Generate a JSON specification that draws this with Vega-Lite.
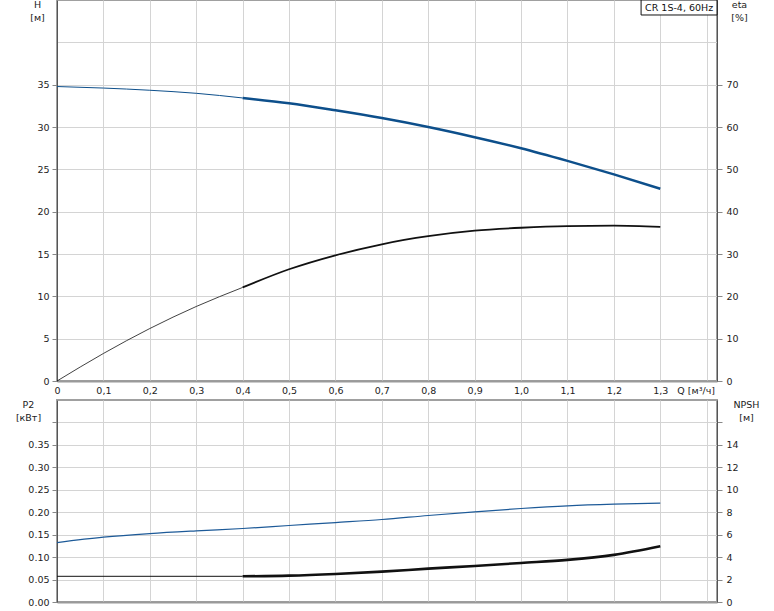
{
  "$schema": "https://vega.github.io/schema/vega-lite/v6.json",
  "autosize": {"type": "pad"},
  "padding": {"left": 14, "top": -2, "right": 0, "bottom": 0},
  "background": "white",
  "config": {
    "font": "DejaVu Sans",
    "view": {"stroke": "#a0a0a0", "strokeWidth": 2},
    "axis": {
      "labelFont": "DejaVu Sans", "labelFontSize": 9.5, "labelColor": "#222",
      "titleFont": "DejaVu Sans", "titleFontSize": 9.5, "titleFontWeight": "normal", "titleColor": "#222",
      "gridColor": "#d4d4d4", "gridWidth": 1, "tickColor": "#888", "tickSize": 5,
      "domainColor": "#555", "domainWidth": 1, "labelPadding": 3
    }
  },
  "datasets": {
    "H": [
      {"q": 0, "v": 34.78, "range": "outside"},
      {"q": 0.1, "v": 34.6, "range": "outside"},
      {"q": 0.2, "v": 34.34, "range": "outside"},
      {"q": 0.3, "v": 33.98, "range": "outside"},
      {"q": 0.4, "v": 33.43, "range": "outside"},
      {"q": 0.4, "v": 33.43, "range": "main"},
      {"q": 0.5, "v": 32.8, "range": "main"},
      {"q": 0.6, "v": 31.97, "range": "main"},
      {"q": 0.7, "v": 31.06, "range": "main"},
      {"q": 0.8, "v": 30.0, "range": "main"},
      {"q": 0.9, "v": 28.8, "range": "main"},
      {"q": 1.0, "v": 27.5, "range": "main"},
      {"q": 1.1, "v": 26.0, "range": "main"},
      {"q": 1.2, "v": 24.4, "range": "main"},
      {"q": 1.3, "v": 22.7, "range": "main"}
    ],
    "eta": [
      {"q": 0, "v": 0, "range": "outside"},
      {"q": 0.1, "v": 6.5, "range": "outside"},
      {"q": 0.2, "v": 12.4, "range": "outside"},
      {"q": 0.3, "v": 17.6, "range": "outside"},
      {"q": 0.4, "v": 22.1, "range": "outside"},
      {"q": 0.4, "v": 22.1, "range": "main"},
      {"q": 0.5, "v": 26.4, "range": "main"},
      {"q": 0.6, "v": 29.7, "range": "main"},
      {"q": 0.7, "v": 32.3, "range": "main"},
      {"q": 0.8, "v": 34.2, "range": "main"},
      {"q": 0.9, "v": 35.5, "range": "main"},
      {"q": 1.0, "v": 36.2, "range": "main"},
      {"q": 1.1, "v": 36.6, "range": "main"},
      {"q": 1.2, "v": 36.7, "range": "main"},
      {"q": 1.3, "v": 36.4, "range": "main"}
    ],
    "P2": [
      {"q": 0, "v": 0.1324},
      {"q": 0.1, "v": 0.1444},
      {"q": 0.2, "v": 0.1525},
      {"q": 0.3, "v": 0.1585},
      {"q": 0.4, "v": 0.1637},
      {"q": 0.5, "v": 0.1704},
      {"q": 0.6, "v": 0.177},
      {"q": 0.7, "v": 0.1838},
      {"q": 0.8, "v": 0.1927},
      {"q": 0.9, "v": 0.2009},
      {"q": 1.0, "v": 0.2083},
      {"q": 1.1, "v": 0.2143},
      {"q": 1.2, "v": 0.218},
      {"q": 1.3, "v": 0.2203}
    ],
    "NPSH": [
      {"q": 0, "v": 2.29, "range": "outside"},
      {"q": 0.4, "v": 2.29, "range": "outside"},
      {"q": 0.4, "v": 2.29, "range": "main"},
      {"q": 0.5, "v": 2.35, "range": "main"},
      {"q": 0.6, "v": 2.5, "range": "main"},
      {"q": 0.7, "v": 2.71, "range": "main"},
      {"q": 0.8, "v": 2.97, "range": "main"},
      {"q": 0.9, "v": 3.21, "range": "main"},
      {"q": 1.0, "v": 3.48, "range": "main"},
      {"q": 1.1, "v": 3.75, "range": "main"},
      {"q": 1.2, "v": 4.2, "range": "main"},
      {"q": 1.3, "v": 4.97, "range": "main"}
    ],
    "label": [
      {"q": 1.2586, "q2": 1.4222, "y": 45, "y2": 43.23, "yc": 44.1, "text": "CR 1S-4, 60Hz"}
    ]
  },
  "bounds": "flush",
  "spacing": 19,
  "vconcat": [
    {
      "width": 660,
      "height": 381,
      "encoding": {
        "x": {
          "field": "q", "type": "quantitative",
          "scale": {"domain": [0, 1.4222], "nice": false, "zero": false},
          "axis": {
            "values": [0, 0.1, 0.2, 0.3, 0.4, 0.5, 0.6, 0.7, 0.8, 0.9, 1.0, 1.1, 1.2, 1.3, 1.4],
            "grid": true, "ticks": false, "title": null,
            "domainColor": "#9a9a9a", "domainWidth": 2,
            "labelPadding": 4, "labelOverlap": false, "labelFlush": false,
            "labelExpr": "datum.value > 1.35 ? 'Q [м³/ч]' : (datum.value == 0 ? '0' : replace(format(datum.value, '.1f'), '.', ','))",
            "labelOffset": {"condition": {"test": "datum.value > 1.35", "value": -11}, "value": 0}
          }
        }
      },
      "layer": [
        {
          "data": {"name": "H"},
          "mark": {"type": "line", "color": "#0d4f8b", "interpolate": "monotone"},
          "encoding": {
            "y": {
              "field": "v", "type": "quantitative",
              "scale": {"domain": [0, 45], "nice": false},
              "axis": {
                "orient": "left",
                "values": [0, 5, 10, 15, 20, 25, 30, 35, 40],
                "grid": true, "labelFlush": false,
                "labelExpr": "datum.value > 35 ? '' : datum.label",
                "tickOpacity": {"condition": {"test": "datum.value > 35", "value": 0}, "value": 1},
                "title": ["H", "[м]"], "titleAngle": 0, "titleAlign": "center", "titleBaseline": "top",
                "titleX": -20, "titleY": -1, "titleLineHeight": 13
              }
            },
            "strokeWidth": {
              "field": "range", "type": "nominal",
              "scale": {"domain": ["outside", "main"], "range": [1, 2.5]},
              "legend": null
            }
          }
        },
        {
          "data": {"name": "eta"},
          "mark": {"type": "line", "color": "#111", "interpolate": "monotone"},
          "encoding": {
            "y": {
              "field": "v", "type": "quantitative",
              "scale": {"domain": [0, 90], "nice": false},
              "axis": {
                "orient": "right",
                "values": [0, 10, 20, 30, 40, 50, 60, 70, 80],
                "grid": false, "labelFlush": false,
                "labelPadding": 4,
                "labelExpr": "datum.value > 70 ? '' : datum.label",
                "tickOpacity": {"condition": {"test": "datum.value > 70", "value": 0}, "value": 1},
                "title": ["eta", "[%]"], "titleAngle": 0, "titleAlign": "center", "titleBaseline": "top",
                "titleX": 22, "titleY": -1, "titleLineHeight": 13
              }
            },
            "strokeWidth": {
              "field": "range", "type": "nominal",
              "scale": {"domain": ["outside", "main"], "range": [0.8, 1.8]},
              "legend": null
            }
          }
        },
        {
          "data": {"name": "label"},
          "mark": {"type": "rect", "fill": "white", "stroke": "#111", "strokeWidth": 1},
          "encoding": {
            "x2": {"field": "q2"},
            "y": {"field": "y", "type": "quantitative", "scale": {"domain": [0, 45], "nice": false}, "axis": null},
            "y2": {"field": "y2"}
          }
        },
        {
          "data": {"name": "label"},
          "mark": {"type": "text", "fontSize": 9.5, "font": "DejaVu Sans", "color": "#111", "align": "left", "baseline": "middle", "dx": 4},
          "encoding": {
            "y": {"field": "yc", "type": "quantitative", "scale": {"domain": [0, 45], "nice": false}, "axis": null},
            "text": {"field": "text"}
          }
        }
      ],
      "resolve": {"scale": {"y": "independent", "strokeWidth": "independent"}}
    },
    {
      "width": 660,
      "height": 202,
      "encoding": {
        "x": {
          "field": "q", "type": "quantitative",
          "scale": {"domain": [0, 1.4222], "nice": false, "zero": false},
          "axis": {
            "values": [0, 0.1, 0.2, 0.3, 0.4, 0.5, 0.6, 0.7, 0.8, 0.9, 1.0, 1.1, 1.2, 1.3, 1.4],
            "grid": true, "ticks": false, "labels": false, "title": null,
            "domainColor": "#9a9a9a", "domainWidth": 2
          }
        }
      },
      "layer": [
        {
          "data": {"name": "P2"},
          "mark": {"type": "line", "color": "#1d5a98", "strokeWidth": 1.2, "interpolate": "monotone"},
          "encoding": {
            "y": {
              "field": "v", "type": "quantitative",
              "scale": {"domain": [0, 0.45], "nice": false},
              "axis": {
                "orient": "left",
                "values": [0, 0.05, 0.1, 0.15, 0.2, 0.25, 0.3, 0.35, 0.4],
                "grid": true, "labelFlush": false,
                "format": ".2f",
                "labelExpr": "datum.value > 0.36 ? '' : datum.label",
                "title": ["P2", "[кВт]"], "titleAngle": 0, "titleAlign": "center", "titleBaseline": "top",
                "titleX": -29, "titleY": -1, "titleLineHeight": 13
              }
            }
          }
        },
        {
          "data": {"name": "NPSH"},
          "mark": {"type": "line", "color": "#111", "interpolate": "monotone"},
          "encoding": {
            "y": {
              "field": "v", "type": "quantitative",
              "scale": {"domain": [0, 18], "nice": false},
              "axis": {
                "orient": "right",
                "values": [0, 2, 4, 6, 8, 10, 12, 14, 16],
                "grid": false, "labelFlush": false,
                "labelPadding": 4,
                "labelExpr": "datum.value > 14 ? '' : datum.label",
                "title": ["NPSH", "[м]"], "titleAngle": 0, "titleAlign": "center", "titleBaseline": "top",
                "titleX": 29, "titleY": -1, "titleLineHeight": 13
              }
            },
            "strokeWidth": {
              "field": "range", "type": "nominal",
              "scale": {"domain": ["outside", "main"], "range": [1, 2.6]},
              "legend": null
            }
          }
        }
      ],
      "resolve": {"scale": {"y": "independent"}}
    }
  ]
}
